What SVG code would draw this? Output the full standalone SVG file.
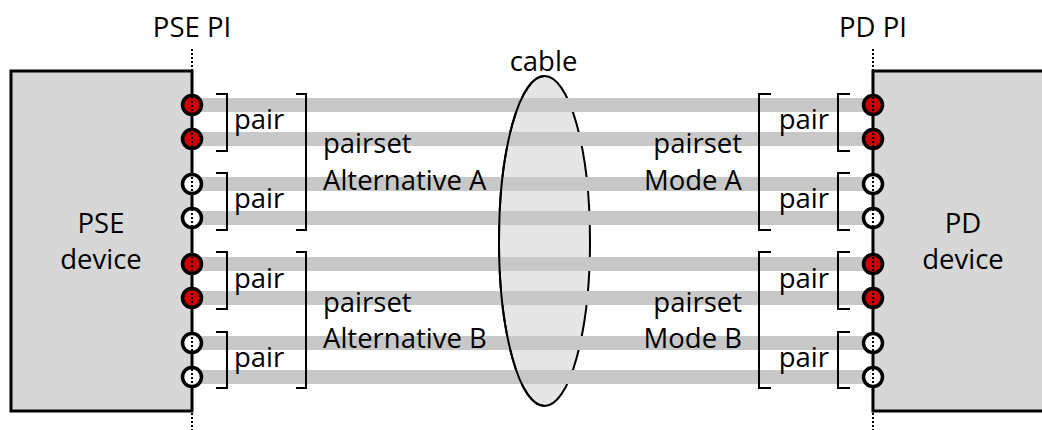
<svg xmlns="http://www.w3.org/2000/svg" width="1042" height="430" viewBox="0 0 1042 430">
<style>
text{font-family:"Open Sans","DejaVu Sans",sans-serif;font-size:27.5px;fill:#000}
.box{fill:#d7d7d7;stroke:#000;stroke-width:3}
.band{fill:#c8c8c8}
.pinr{fill:#cc0000;stroke:#000;stroke-width:3.5}
.pinw{fill:#fff;stroke:#000;stroke-width:3.5}
.pi{stroke:#000;stroke-width:2;stroke-dasharray:2 2;fill:none}
.br{fill:none;stroke:#000;stroke-width:2}
.mid{text-anchor:middle}
.end{text-anchor:end}
</style>
<g id="cable-back">
<ellipse cx="544.5" cy="241" rx="45.5" ry="165" fill="#e6e6e6" stroke="#000" stroke-width="2"/>
</g>
<g id="wires">
<rect class="band" x="192" y="98" width="681" height="14"/>
<rect class="band" x="192" y="132" width="681" height="14"/>
<rect class="band" x="192" y="177" width="681" height="14"/>
<rect class="band" x="192" y="211" width="681" height="14"/>
<rect class="band" x="192" y="257" width="681" height="14"/>
<rect class="band" x="192" y="291" width="681" height="14"/>
<rect class="band" x="192" y="336" width="681" height="14"/>
<rect class="band" x="192" y="370" width="681" height="14"/>
</g>
<g id="cable">
<path d="M544.5,76 A45.5,165 0 0 0 544.5,406" fill="none" stroke="#000" stroke-width="2"/>
<text class="mid" x="543.5" y="71">cable</text>
</g>
<g id="pse-device">
<rect class="box" x="11" y="71" width="181" height="340"/>
<text class="mid" x="101" y="233">PSE</text>
<text class="mid" x="101" y="269">device</text>
</g>
<g id="pd-device">
<rect class="box" x="873" y="71" width="220" height="340"/>
<text class="mid" x="963" y="233">PD</text>
<text class="mid" x="963" y="269">device</text>
</g>
<g id="pse-pins">
<circle class="pinr" cx="192" cy="105" r="9.5"/>
<circle class="pinr" cx="192" cy="139" r="9.5"/>
<circle class="pinw" cx="192" cy="184" r="9.5"/>
<circle class="pinw" cx="192" cy="218" r="9.5"/>
<circle class="pinr" cx="192" cy="264" r="9.5"/>
<circle class="pinr" cx="192" cy="298" r="9.5"/>
<circle class="pinw" cx="192" cy="343" r="9.5"/>
<circle class="pinw" cx="192" cy="377" r="9.5"/>
</g>
<g id="pd-pins">
<circle class="pinr" cx="873" cy="105" r="9.5"/>
<circle class="pinr" cx="873" cy="139" r="9.5"/>
<circle class="pinw" cx="873" cy="184" r="9.5"/>
<circle class="pinw" cx="873" cy="218" r="9.5"/>
<circle class="pinr" cx="873" cy="264" r="9.5"/>
<circle class="pinr" cx="873" cy="298" r="9.5"/>
<circle class="pinw" cx="873" cy="343" r="9.5"/>
<circle class="pinw" cx="873" cy="377" r="9.5"/>
</g>
<g id="pse-pi">
<line class="pi" x1="192" y1="49" x2="192" y2="430"/>
<text class="mid" x="192" y="37">PSE PI</text>
</g>
<g id="pd-pi">
<line class="pi" x1="873" y1="49" x2="873" y2="430"/>
<text class="mid" x="873" y="37">PD PI</text>
</g>
<g id="pse-pairs">
<path class="br" d="M216,94 H227 V151 H216"/>
<path class="br" d="M216,173 H227 V230 H216"/>
<path class="br" d="M216,252 H227 V309 H216"/>
<path class="br" d="M216,332 H227 V388 H216"/>
<text x="234" y="129">pair</text>
<text x="234" y="208">pair</text>
<text x="234" y="288">pair</text>
<text x="234" y="367">pair</text>
</g>
<g id="pse-pairset-a">
<path class="br" d="M296,94 H306 V230 H296"/>
<text x="323" y="153">pairset</text>
<text x="323" y="190">Alternative A</text>
</g>
<g id="pse-pairset-b">
<path class="br" d="M296,252 H306 V388 H296"/>
<text x="323" y="312">pairset</text>
<text x="323" y="348">Alternative B</text>
</g>
<g id="pd-pairs">
<path class="br" d="M850,94 H838 V151 H850"/>
<path class="br" d="M850,173 H838 V230 H850"/>
<path class="br" d="M850,252 H838 V309 H850"/>
<path class="br" d="M850,332 H838 V388 H850"/>
<text class="end" x="829" y="129">pair</text>
<text class="end" x="829" y="208">pair</text>
<text class="end" x="829" y="288">pair</text>
<text class="end" x="829" y="367">pair</text>
</g>
<g id="pd-pairset-a">
<path class="br" d="M771,94 H759 V230 H771"/>
<text class="end" x="742" y="153">pairset</text>
<text class="end" x="742" y="190">Mode A</text>
</g>
<g id="pd-pairset-b">
<path class="br" d="M771,252 H759 V388 H771"/>
<text class="end" x="742" y="312">pairset</text>
<text class="end" x="742" y="348">Mode B</text>
</g>
</svg>
